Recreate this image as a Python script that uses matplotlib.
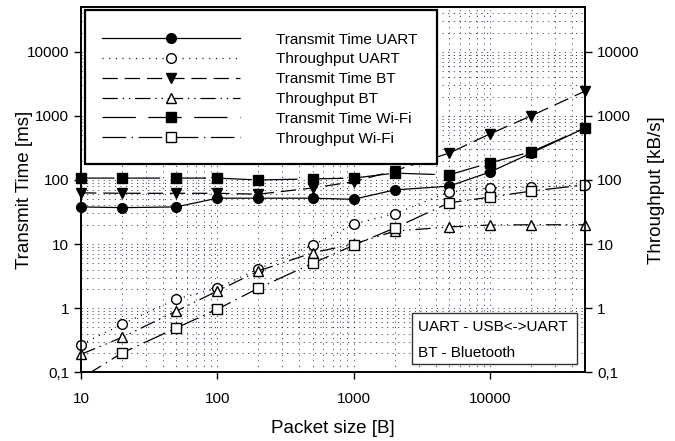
import numpy as np
import matplotlib.pyplot as plt
from matplotlib.patches import Rectangle

plt.rcParams['font.family'] = ['Liberation Sans', 'DejaVu Sans']
plt.rcParams['lines.scale_dashes'] = False

packet_size = [10, 20, 50, 100, 200, 500, 1000, 2000, 5000, 10000, 20000, 50000]

time_uart = [38, 37, 38, 52, 52, 52, 50, 70, 80, 133, 262, 650]
thr_uart = [0.27, 0.56, 1.38, 2.05, 4.1, 9.6, 20.5, 29.6, 65, 75, 77, 84]
time_bt = [63, 62, 62, 62, 60, 75, 94, 140, 262, 524, 1000, 2450]
thr_bt = [0.19, 0.35, 0.9, 1.85, 3.8, 7.3, 10, 15.9, 18.5, 19.8, 20, 20]
time_wifi = [107, 107, 107, 107, 100, 104, 107, 128, 120, 185, 274, 650]
thr_wifi = [0.08, 0.2, 0.49, 0.96, 2.05, 5.0, 9.6, 17.8, 44, 54, 67, 84]

y_ticks = [0.1, 1, 10, 100, 1000, 10000]
y_tick_labels = ['0,1', '1', '10', '100', '1000', '10000']
x_ticks = [10, 100, 1000, 10000]
x_tick_labels = ['10', '100', '1000', '10000']


def setup_y(axis):
    axis.set_yscale('log')
    axis.set_ylim(0.1, 50000)
    axis.set_yticks(y_ticks)
    axis.set_yticklabels(y_tick_labels)
    axis.yaxis.set_minor_locator(plt.NullLocator())


fig = plt.figure(figsize=(6.75, 4.41), dpi=100)
ax = fig.add_axes([0.12, 0.156, 0.747, 0.828])
ax.set_xscale('log')
ax.set_xlim(10, 50000)
setup_y(ax)
ax.set_xticks(x_ticks)
ax.set_xticklabels(x_tick_labels)
ax.xaxis.set_minor_locator(plt.LogLocator(base=10, subs=np.arange(2, 10)))
ax.yaxis.set_minor_locator(plt.LogLocator(base=10, subs=np.arange(2, 10)))
ax.tick_params(axis='x', which='minor', length=0)
ax.tick_params(axis='y', which='minor', length=0)
ax.grid(True, which='both', linestyle=(0, (0.8, 3.2)), linewidth=0.6, color='#222244')
ax.tick_params(which='major', direction='out', length=5, width=1, labelsize=11)
ax.tick_params(axis='x', which='major', pad=9)

ax2 = ax.twinx()
setup_y(ax2)
ax2.tick_params(which='major', direction='out', length=5, width=1, labelsize=11)

for a in (ax, ax2):
    for s in a.spines.values():
        s.set_linewidth(1.2)

kw = dict(color='black', linewidth=0.9, markersize=7, clip_on=False)
l1, = ax.plot(packet_size, time_uart, marker='o', linestyle='-', label='Transmit Time UART', **kw)
l2, = ax2.plot(packet_size, thr_uart, marker='o', markerfacecolor='white',
               linestyle=(0, (0.8, 4)), label='Throughput UART', **kw)
l3, = ax.plot(packet_size, time_bt, marker='v', linestyle=(0, (11, 5)),
              label='Transmit Time BT', **kw)
l4, = ax2.plot(packet_size, thr_bt, marker='^', markerfacecolor='white',
               linestyle=(0, (11, 3.5, 1, 3.5, 1, 3.5)), label='Throughput BT', **kw)
l5, = ax.plot(packet_size, time_wifi, marker='s', markersize=6.5, linestyle=(0, (24, 9)),
              label='Transmit Time Wi-Fi', color='black', linewidth=0.9, clip_on=False)
l6, = ax2.plot(packet_size, thr_wifi, marker='s', markersize=6.5, markerfacecolor='white',
               linestyle=(0, (17, 4, 1, 4)), label='Throughput Wi-Fi',
               color='black', linewidth=0.9, clip_on=True)

# legend box drawn by hand, legend itself frameless
ax2.add_patch(Rectangle((0.008, 0.57), 0.698, 0.422, transform=ax2.transAxes,
                        facecolor='white', edgecolor='black', linewidth=1.6, zorder=8))
leg = ax2.legend(handles=[l1, l2, l3, l4, l5, l6], loc='upper left',
                 bbox_to_anchor=(0.0417, 0.93), borderaxespad=0, borderpad=0,
                 fontsize=11, handlelength=9, handletextpad=2.4, labelspacing=0.38,
                 frameon=False)
leg.set_zorder(10)

ax2.add_patch(Rectangle((0.657, 0.022), 0.327, 0.14, transform=ax2.transAxes,
                        facecolor='white', edgecolor='#333333', linewidth=1, zorder=9))
ax2.text(0.669, 0.123, 'UART - USB<->UART', transform=ax2.transAxes, fontsize=11,
         va='center', ha='left', zorder=11)
ax2.text(0.669, 0.052, 'BT - Bluetooth', transform=ax2.transAxes, fontsize=11,
         va='center', ha='left', zorder=11)

ax.set_xlabel('Packet size [B]', fontsize=13.5, labelpad=10)
ax.set_ylabel('Transmit Time [ms]', fontsize=13.5)
ax.yaxis.set_label_coords(-0.095, 0.5)
ax2.set_ylabel('Throughput [kB/s]', fontsize=13.5)
ax2.yaxis.set_label_coords(1.125, 0.5)

fig.savefig('out.png', dpi=100)
